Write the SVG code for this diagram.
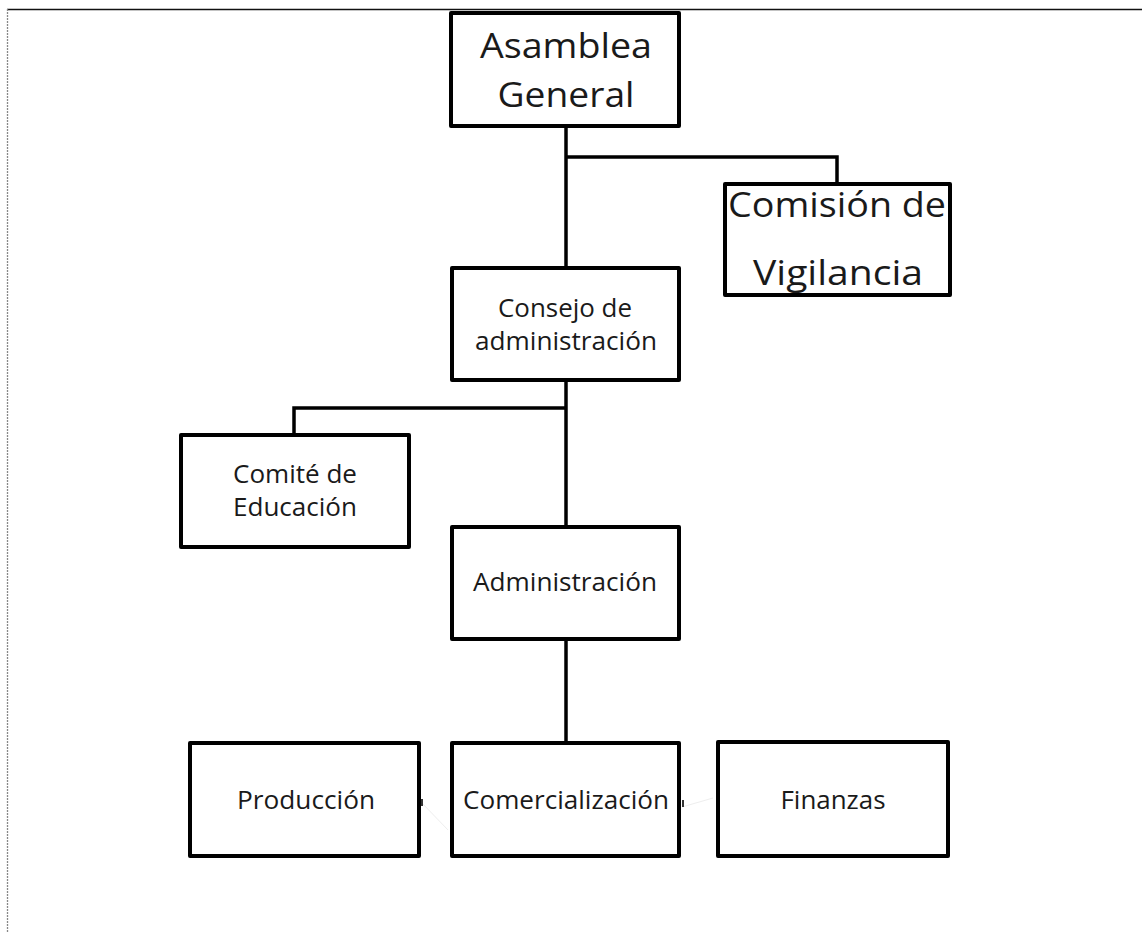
<svg xmlns="http://www.w3.org/2000/svg" width="1142" height="932" viewBox="0 0 1142 932">
<style>
.box{fill:#fff;stroke:#000;stroke-width:4;stroke-linejoin:round}
.conn{fill:none;stroke:#000;stroke-width:3.5}
.faint{fill:none;stroke:#eeeeee;stroke-width:1}
.stub{fill:none;stroke:#333;stroke-width:2}
text{font-family:"Open Sans","Noto Sans","Liberation Sans",sans-serif;fill:#1a1a1a;text-anchor:middle}
.big{font-size:35px}
.sm{font-size:26px}
</style>
<rect x="0" y="0" width="1142" height="932" fill="#fff"/>
<g id="frame">
<line x1="7" y1="9.5" x2="1142" y2="9.5" stroke="#111" stroke-width="1.5"/>
<line x1="7.5" y1="9" x2="7.5" y2="932" stroke="#888" stroke-width="1.3" stroke-dasharray="2 1"/>
</g>
<g id="connectors">
<path class="conn" d="M566 128V266"/>
<path class="conn" d="M566 157H837V182"/>
<path class="conn" d="M566 382V525"/>
<path class="conn" d="M566 408H294V433"/>
<path class="conn" d="M566 641V741"/>
<path class="faint" d="M421 802L448 830"/>
<path class="faint" d="M682 807L713 798"/>
<path class="stub" d="M422 799V806"/>
<path class="stub" d="M683 800V807"/>
</g>
<g id="asamblea">
<rect class="box" x="451" y="13" width="228" height="113"/>
<text class="big" x="566" y="58" textLength="172" lengthAdjust="spacingAndGlyphs">Asamblea</text>
<text class="big" x="566" y="107" textLength="137" lengthAdjust="spacingAndGlyphs">General</text>
</g>
<g id="comision">
<rect class="box" x="725" y="184" width="225" height="111"/>
<text class="big" x="837" y="217" textLength="218" lengthAdjust="spacingAndGlyphs">Comisión de</text>
<text class="big" x="838" y="285" textLength="170" lengthAdjust="spacingAndGlyphs">Vigilancia</text>
</g>
<g id="consejo">
<rect class="box" x="452" y="268" width="227" height="112"/>
<text class="sm" x="565" y="317" textLength="134" lengthAdjust="spacingAndGlyphs">Consejo de</text>
<text class="sm" x="566" y="350" textLength="182" lengthAdjust="spacingAndGlyphs">administración</text>
</g>
<g id="comite">
<rect class="box" x="181" y="435" width="228" height="112"/>
<text class="sm" x="295" y="483" textLength="124" lengthAdjust="spacingAndGlyphs">Comité de</text>
<text class="sm" x="295" y="516" textLength="124" lengthAdjust="spacingAndGlyphs">Educación</text>
</g>
<g id="administracion">
<rect class="box" x="452" y="527" width="227" height="112"/>
<text class="sm" x="565" y="591" textLength="184" lengthAdjust="spacingAndGlyphs">Administración</text>
</g>
<g id="produccion">
<rect class="box" x="190" y="743" width="229" height="113"/>
<text class="sm" x="306" y="809" textLength="138" lengthAdjust="spacingAndGlyphs">Producción</text>
</g>
<g id="comercializacion">
<rect class="box" x="452" y="743" width="227" height="113"/>
<text class="sm" x="566" y="809" textLength="206" lengthAdjust="spacingAndGlyphs">Comercialización</text>
</g>
<g id="finanzas">
<rect class="box" x="718" y="742" width="230" height="114"/>
<text class="sm" x="833" y="809" textLength="105" lengthAdjust="spacingAndGlyphs">Finanzas</text>
</g>
</svg>
